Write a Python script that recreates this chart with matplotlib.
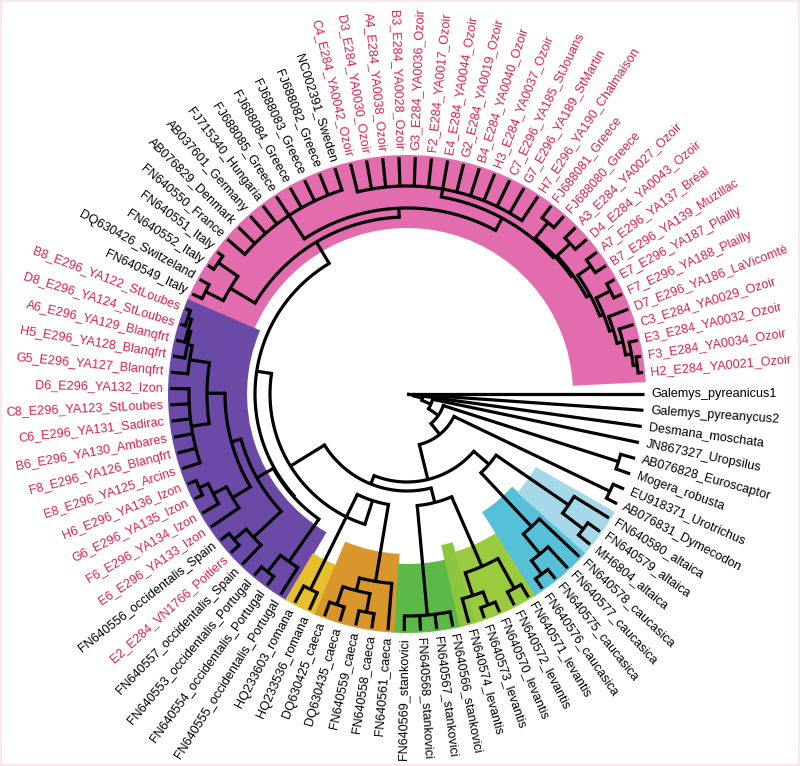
import re
import numpy as np
import matplotlib
matplotlib.use("Agg")
import matplotlib.pyplot as plt
from matplotlib.patches import Wedge, Rectangle

# ---------------- data ----------------
LABELS = [
    "Galemys_pyreanicus1", "Galemys_pyreanycus2", "Desmana_moschata", "JN867327_Uropsilus",
    "AB076828_Euroscaptor", "Mogera_robusta", "EU918371_Urotrichus", "AB076831_Dymecodon",
    "FN640580_altaica", "FN640579_altaica", "MH6804_altaica",
    "FN640578_caucasica", "FN640577_caucasica", "FN640575_caucasica", "FN640576_caucasica",
    "FN640571_levantis", "FN640572_levantis", "FN640570_levantis", "FN640573_levantis", "FN640574_levantis",
    "FN640566_stankovici", "FN640567_stankovici", "FN640568_stankovici", "FN640569_stankovici",
    "FN640561_caeca", "FN640558_caeca", "FN640559_caeca", "DQ630435_caeca", "DQ630425_caeca",
    "HQ233536_romana", "HQ233603_romana",
    "FN640555_occidentalis_Portugal", "FN640554_occidentalis_Portugal", "FN640553_occidentalis_Portugal",
    "FN640557_occidentalis_Spain", "E2_E284_VN1766_Poitiers", "FN640556_occidentalis_Spain",
    "E6_E296_YA133_Izon", "F6_E296_YA134_Izon", "G6_E296_YA135_Izon", "H6_E296_YA136_Izon",
    "E8_E296_YA125_Arcins", "F8_E296_YA126_Blanqfrt", "B6_E296_YA130_Ambares", "C6_E296_YA131_Sadirac",
    "C8_E296_YA123_StLoubes", "D6_E296_YA132_Izon", "G5_E296_YA127_Blanqfrt", "H5_E296_YA128_Blanqfrt",
    "A6_E296_YA129_Blanqfrt", "D8_E296_YA124_StLoubes", "B8_E296_YA122_StLoubes",
    "FN640549_Italy", "DQ630426_Switzeland", "FN640552_Italy", "FN640551_Italy", "FN640550_France",
    "AB076829_Denmark", "AB037601_Germany", "FJ715340_Hungaria", "FJ688085_Greece", "FJ688084_Greece",
    "FJ688083_Greece", "FJ688082_Greece", "NC002391_Sweden",
    "C4_E284_YA0042_Ozoir", "D3_E284_YA0030_Ozoir", "A4_E284_YA0038_Ozoir", "B3_E284_YA0028_Ozoir",
    "G3_E284_YA0036_Ozoir", "F2_E284_YA0017_Ozoir", "E4_E284_YA0044_Ozoir", "G2_E284_YA0019_Ozoir",
    "B4_E284_YA0040_Ozoir", "H3_E284_YA0037_Ozoir", "C7_E296_YA185_StJouans", "G7_E296_YA189_StMartin",
    "H7_E296_YA190_Chalmaison", "FJ688081_Greece", "FJ688080_Greece", "A3_E284_YA0027_Ozoir",
    "D4_E284_YA0043_Ozoir", "A7_E296_YA137_Bréal", "B7_E296_YA139_Muzillac", "E7_E296_YA187_Plailly",
    "F7_E296_YA188_Plailly", "D7_E296_YA186_LaVicomté", "C3_E284_YA0029_Ozoir", "E3_E284_YA0032_Ozoir",
    "F3_E284_YA0034_Ozoir", "H2_E284_YA0021_Ozoir",
]
EXTRA_RED = ["FJ688081_Greece", "FJ688080_Greece"]

# tree topology (tips = 1-based label index, internal label = node radius)
LAD = "((79,80)222,((81,82)222,((83,84)224,((85,86)228,(87,(88,(89,(90,91)232)228)222)216)212)208)204)202"
EUR = "(((53,54)226,(55,56)230)206,((57,58,59,60,61,62,63,64,65)214,((66,67,68,69,70,71,72,73,74,75,76,77,78)208,LAD)200)186)177"
FRA = "((38,(39,(40,41)228)218)203,((42,43,44,45,46,47)218,(48,(49,(50,(51,52)232)228)225)220)200)182"
POR = "(32,(33,34)226)205"
SPF = "((35,(36,37)226)210,FRA)172"
OCC = "(POR,SPF)153"
EO = "(EUR,OCC)152"
CR = "((25,((26,27)222,(28,29)222)203)190,(30,31)218)112"
R2 = "(CR,EO)137"
LEV = "((16,17)222,((18,19)226,20)212)188"
LS = "(LEV,(21,22,23,24)222)112"
R1 = "(LS,R2)97"
CA = "((9,(10,11)222)196,(12,(13,(14,15)225)208)182)108"
TAL = "(CA,R1)88"
TREE = "(1,(2,(3,(4,((5,6)222,((7,8)225,TAL)52)38)26)16)7)0"

# coloured clade bands: first tip, last tip, inner radius, colour
BANDS = [
    (53, 91, 166, "#e36cae"),
    (32, 52, 160, "#6a4aa6"),
    (30, 31, 185, "#e7bf2c"),
    (25, 29, 160, "#d9962c"),
    (21, 24, 170, "#5cb947"),
    (20, 20, 155, "#8cc540"),
    (16, 19, 165, "#9acb3f"),
    (12, 15, 140, "#55c0d7"),
    (9, 11, 148, "#a5d9e8"),
]

# ---------------- build tree ----------------
newick = TREE
for name, sub in [("TAL", TAL), ("CA", CA), ("R1", R1), ("LS", LS), ("LEV", LEV), ("R2", R2), ("CR", CR),
                  ("EO", EO), ("OCC", OCC), ("POR", POR), ("SPF", SPF), ("FRA", FRA), ("EUR", EUR), ("LAD", LAD)]:
    newick = newick.replace(name, sub)

tokens = re.findall(r"\(|\)|,|[0-9.]+", newick)


def parse(pos):
    if tokens[pos] == "(":
        children = []
        pos += 1
        while True:
            child, pos = parse(pos)
            children.append(child)
            if tokens[pos] == ",":
                pos += 1
                continue
            break
        pos += 1  # ')'
        r = float(tokens[pos])
        return {"children": children, "r": r}, pos + 1
    return {"tip": int(tokens[pos])}, pos + 1


root, _ = parse(0)

STEP = 3.942
A0 = 0.0
R_TIP = 237.0
CX, CY = 407.0, 766 - 394.0


def tip_angle(i):
    return A0 - (i - 1) * STEP


def layout(node):
    if "tip" in node:
        node["a"] = tip_angle(node["tip"])
        node["r"] = R_TIP
    else:
        for c in node["children"]:
            layout(c)
        node["a"] = 0.5 * (node["children"][0]["a"] + node["children"][-1]["a"])


layout(root)

fig = plt.figure(figsize=(8.0, 7.66), dpi=100)
ax = fig.add_axes([0, 0, 1, 1])
ax.set_xlim(0, 800)
ax.set_ylim(0, 766)
ax.axis("off")
ax.add_patch(Rectangle((0, 0), 800, 766, facecolor="none", edgecolor="#f8e8ec", lw=3, zorder=0))

for first, last, rin, col in BANDS:
    t1 = tip_angle(last) - STEP * 0.6
    t2 = tip_angle(first) + STEP * 0.5
    ax.add_patch(Wedge((CX, CY), 239, t1, t2, width=239 - rin, facecolor=col, edgecolor="none", zorder=1))

LW = 2.3


def pol(r, a):
    t = np.deg2rad(a)
    return CX + r * np.cos(t), CY + r * np.sin(t)


def draw(node):
    if "tip" in node:
        return
    r = node["r"]
    a1 = node["children"][0]["a"]
    a2 = node["children"][-1]["a"]
    if r > 0:
        ts = np.linspace(a1, a2, max(2, int(abs(a2 - a1) * 2)))
        xs, ys = pol(r, ts)
        ax.plot(xs, ys, color="black", lw=LW, solid_capstyle="projecting", solid_joinstyle="miter", zorder=3)
    for c in node["children"]:
        x0, y0 = pol(r, c["a"])
        x1, y1 = pol(c["r"], c["a"])
        ax.plot([x0, x1], [y0, y1], color="black", lw=LW, solid_capstyle="butt", zorder=3)
        draw(c)


draw(root)

RED = "#d8204f"
for i, lab in enumerate(LABELS, start=1):
    a = tip_angle(i)
    x, y = pol(R_TIP + 7, a)
    col = RED if (re.match(r"^[A-H]\d_E", lab) or lab in EXTRA_RED) else "black"
    if np.cos(np.deg2rad(a)) >= 0:
        rot, ha = a, "left"
    else:
        rot, ha = a + 180, "right"
    ax.text(x, y, lab, rotation=rot, rotation_mode="anchor", ha=ha, va="center",
            fontsize=9.1, color=col, family=["Liberation Sans", "DejaVu Sans"], zorder=4)

fig.savefig("out.png", dpi=100, facecolor="white")
